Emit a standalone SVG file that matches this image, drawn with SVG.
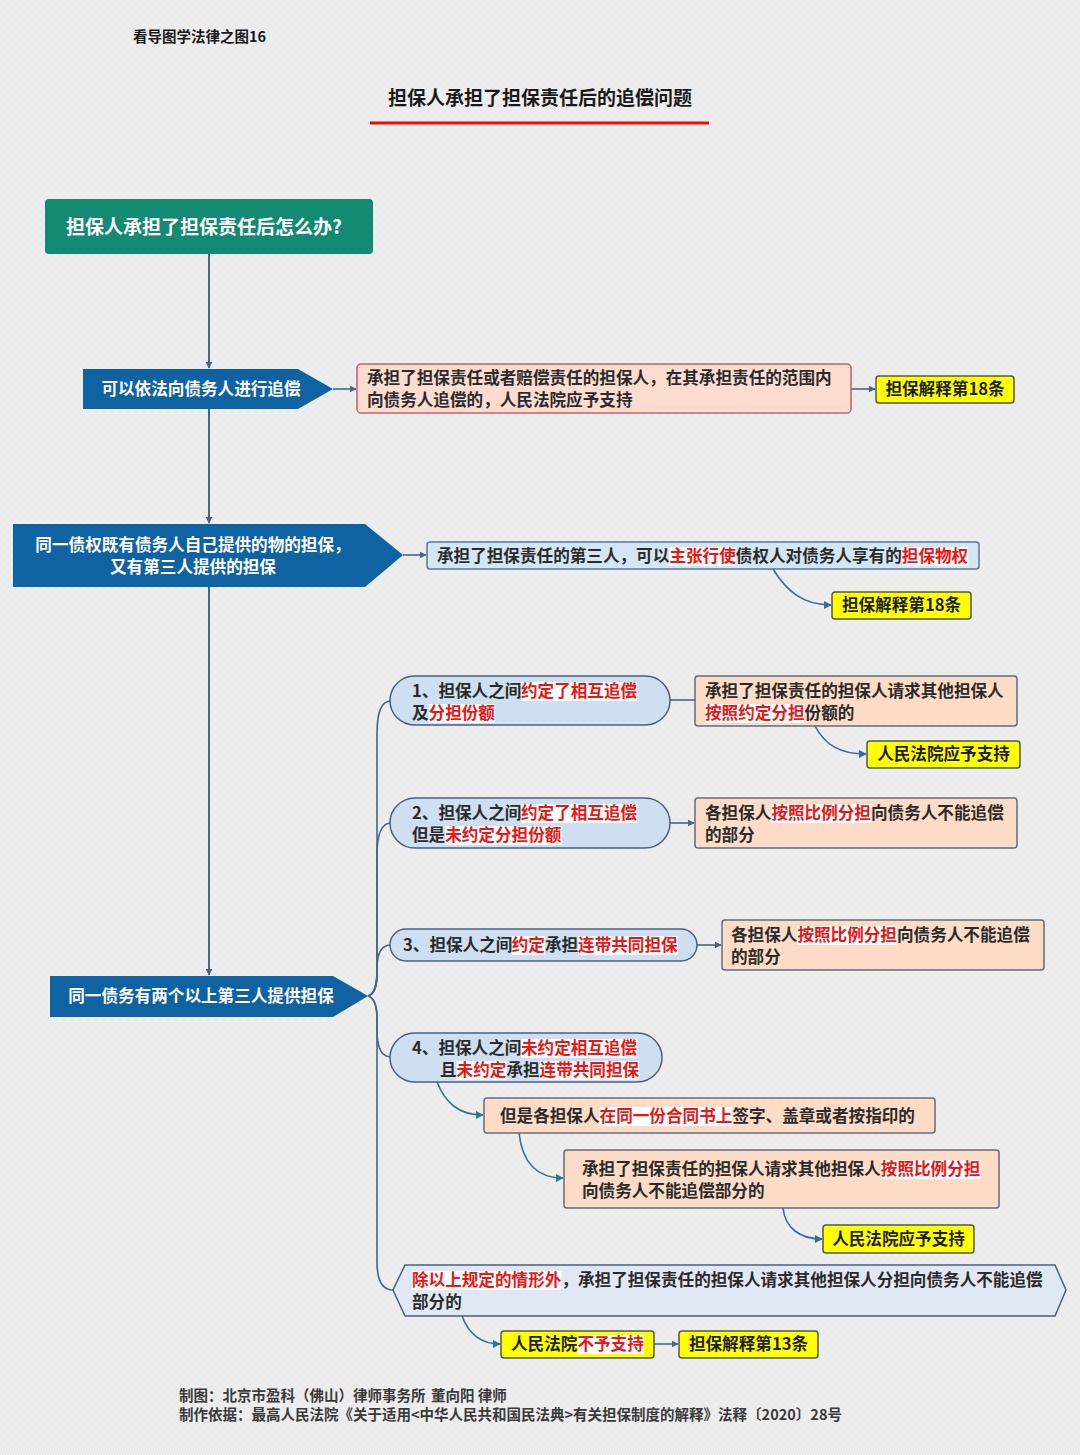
<svg xmlns="http://www.w3.org/2000/svg" width="1080" height="1455" viewBox="0 0 1080 1455">
<defs>
<pattern id="tex" width="8" height="8" patternUnits="userSpaceOnUse">
<path d="M0,8 L8,0 M0,0 L8,8" stroke="#ffffff" stroke-width="0.6" opacity="0.45"/>
</pattern>
<marker id="ab" viewBox="0 0 10 10" refX="9" refY="5" markerWidth="7" markerHeight="7" orient="auto" markerUnits="userSpaceOnUse">
<path d="M0,0 L10,5 L0,10 Z" fill="#4d6384"/>
</marker>
<marker id="at" viewBox="0 0 10 10" refX="9" refY="5" markerWidth="8" markerHeight="8" orient="auto" markerUnits="userSpaceOnUse">
<path d="M0,0 L10,5 L0,10 Z" fill="#2d7890"/>
</marker>
<marker id="ac" viewBox="0 0 10 10" refX="9" refY="5" markerWidth="8" markerHeight="8" orient="auto" markerUnits="userSpaceOnUse">
<path d="M0,0 L10,5 L0,10 Z" fill="#3a6a9a"/>
</marker>
<style>
text{font-family:"Noto Sans CJK SC","Liberation Sans",sans-serif;font-weight:700;}
.t{font-size:16.6px;fill:#2b2b2b;}
.w{font-size:16.6px;fill:#ffffff;}
.r{fill:#ee1515;}
.hl{fill:#ffffff;}
.trunk{stroke:#4d6384;stroke-width:2;fill:none;}
.br{stroke:#4d6384;stroke-width:1.6;fill:none;}
.ct{stroke:#2d7890;stroke-width:1.6;fill:none;}
.cb{stroke:#3a6a9a;stroke-width:1.6;fill:none;}
.blue{fill:#0f63a3;}
.peach{fill:#fcdcc6;stroke:#5d6e80;stroke-width:1.5;}
.pill{fill:#cddff0;stroke:#4a6080;stroke-width:1.5;}
.yel{fill:#ffff00;stroke:#4e5a50;stroke-width:1.5;}
.yt{font-size:16.6px;fill:#1e1e1e;text-anchor:middle;}
</style>
</defs>
<rect width="1080" height="1455" fill="#ebebeb"/>
<rect width="1080" height="1455" fill="url(#tex)"/>

<g id="header">
<text x="133" y="42" style="font-size:14.5px;fill:#1a1a1a;">看导图学法律之图16</text>
<text x="540" y="105" style="font-size:19px;fill:#1a1a1a;text-anchor:middle;">担保人承担了担保责任后的追偿问题</text>
<line x1="370" y1="123" x2="709" y2="123" stroke="#e01010" stroke-width="3"/>
</g>

<g id="connectors">
<line class="trunk" x1="209" y1="254" x2="209" y2="368" marker-end="url(#ab)"/>
<line class="trunk" x1="209" y1="409" x2="209" y2="523" marker-end="url(#ab)"/>
<line class="trunk" x1="209" y1="587" x2="209" y2="975" marker-end="url(#ab)"/>
<line class="br" x1="333" y1="389" x2="356" y2="389" marker-end="url(#ab)"/>
<line class="br" x1="851" y1="389" x2="875" y2="389" marker-end="url(#ab)"/>
<line class="br" x1="403" y1="555" x2="426" y2="555" marker-end="url(#ab)"/>
<path class="cb" d="M773,569 C786,590 802,605 831,605" marker-end="url(#ac)"/>
<path class="br" d="M368,996 C375,994 377,985 377,970 L377,735 C377,712 381,701 391,701"/>
<path class="br" d="M368,996 C375,994 377,985 377,970 L377,855 C377,835 381,823 391,823"/>
<path class="br" d="M368,996 C375,994 377,985 377,975 L377,968 C377,953 381,945 391,945"/>
<path class="br" d="M368,996 C375,998 377,1008 377,1018 L377,1030 C377,1047 381,1057 391,1057"/>
<path class="br" d="M368,996 C375,998 377,1008 377,1020 L377,1262 C377,1280 382,1290 393,1290"/>
<line class="br" x1="670" y1="700" x2="695" y2="700"/>
<line class="br" x1="670" y1="823" x2="694" y2="823" marker-end="url(#ab)"/>
<line class="br" x1="697" y1="945" x2="721" y2="945" marker-end="url(#ab)"/>
<path class="cb" d="M815,726 C825,745 840,754 866,754" marker-end="url(#ac)"/>
<path class="ct" d="M437,1082 C445,1102 458,1115 483,1115" marker-end="url(#at)"/>
<path class="ct" d="M519,1133 C522,1160 535,1178 563,1178" marker-end="url(#at)"/>
<path class="cb" d="M783,1208 C785,1228 800,1239 822,1239" marker-end="url(#ac)"/>
<path class="ct" d="M462,1316 C468,1332 480,1344 500,1344" marker-end="url(#at)"/>
<line class="br" x1="654" y1="1344" x2="678" y2="1344" marker-end="url(#ab)"/>
</g>

<g id="n-root">
<rect x="45" y="199" width="328" height="55" rx="4" fill="#138a72"/>
<text x="66" y="234" style="font-size:19px;fill:#ffffff;">担保人承担了担保责任后怎么办?</text>
</g>

<g id="n-recourse">
<polygon class="blue" points="83,369 298,369 333,389 298,409 83,409"/>
<text class="w" x="201" y="395" text-anchor="middle">可以依法向债务人进行追偿</text>
</g>

<g id="n-recourse-rule">
<rect x="357" y="364" width="494" height="49" rx="4" fill="#fcdcd0" stroke="#c8606a" stroke-width="1.5"/>
<text class="t" x="367" y="384">承担了担保责任或者赔偿责任的担保人，在其承担责任的范围内</text>
<text class="t" x="367" y="406">向债务人追偿的，人民法院应予支持</text>
</g>

<g id="n-art18a">
<rect class="yel" x="876" y="376" width="138" height="27" rx="3"/>
<text class="yt" x="945" y="395">担保解释第18条</text>
</g>

<g id="n-mixed">
<polygon class="blue" points="13,524 365,524 403,555 365,587 13,587"/>
<text class="w" x="193" y="551" text-anchor="middle">同一债权既有债务人自己提供的物的担保，</text>
<text class="w" x="193" y="573" text-anchor="middle">又有第三人提供的担保</text>
</g>

<g id="n-mixed-rule">
<rect x="427" y="542" width="552" height="27" rx="3" fill="#d5e6f3" stroke="#5a7896" stroke-width="1.5"/>
<rect class="hl" x="669.4" y="547" width="66.4" height="19"/>
<rect class="hl" x="901.8" y="547" width="66.4" height="19"/>
<text class="t" y="562"><tspan x="437">承担了担保责任的第三人，可以</tspan><tspan x="669.4" class="r">主张行使</tspan><tspan x="735.8">债权人对债务人享有的</tspan><tspan x="901.8" class="r">担保物权</tspan></text>
</g>

<g id="n-art18b">
<rect class="yel" x="832" y="592" width="139" height="27" rx="3"/>
<text class="yt" x="901.5" y="611">担保解释第18条</text>
</g>

<g id="n-multi">
<polygon class="blue" points="50,976 333,976 368,996 333,1017 50,1017"/>
<text class="w" x="201" y="1002" text-anchor="middle">同一债务有两个以上第三人提供担保</text>
</g>

<g id="n-opt1">
<rect class="pill" x="390" y="676" width="280" height="49" rx="24.5"/>
<rect class="hl" x="521" y="682" width="116.2" height="19"/>
<rect class="hl" x="428.6" y="704" width="66.4" height="19"/>
<text class="t" y="697"><tspan x="412">1、担保人之间</tspan><tspan x="521" class="r">约定了相互追偿</tspan></text>
<text class="t" y="719"><tspan x="412">及</tspan><tspan x="428.6" class="r">分担份额</tspan></text>
</g>

<g id="n-opt1-rule">
<rect class="peach" x="695" y="676" width="322" height="50" rx="3"/>
<rect class="hl" x="705" y="704" width="99.6" height="19"/>
<text class="t" x="705" y="697">承担了担保责任的担保人请求其他担保人</text>
<text class="t" y="719"><tspan x="705" class="r">按照约定分担</tspan><tspan x="804.6">份额的</tspan></text>
</g>

<g id="n-opt1-court">
<rect class="yel" x="867" y="741" width="153" height="27" rx="3"/>
<text class="yt" x="943.5" y="760">人民法院应予支持</text>
</g>

<g id="n-opt2">
<rect class="pill" x="390" y="798" width="280" height="50" rx="25"/>
<rect class="hl" x="521" y="804" width="116.2" height="19"/>
<rect class="hl" x="445.2" y="826" width="116.2" height="19"/>
<text class="t" y="819"><tspan x="412">2、担保人之间</tspan><tspan x="521" class="r">约定了相互追偿</tspan></text>
<text class="t" y="841"><tspan x="412">但是</tspan><tspan x="445.2" class="r">未约定分担份额</tspan></text>
</g>

<g id="n-opt2-rule">
<rect class="peach" x="695" y="798" width="322" height="50" rx="3"/>
<rect class="hl" x="771.4" y="804" width="99.6" height="19"/>
<text class="t" y="819"><tspan x="705">各担保人</tspan><tspan x="771.4" class="r">按照比例分担</tspan><tspan x="871">向债务人不能追偿</tspan></text>
<text class="t" x="705" y="841">的部分</text>
</g>

<g id="n-opt3">
<rect class="pill" x="390" y="929" width="307" height="32" rx="16"/>
<rect class="hl" x="511.7" y="936" width="33.2" height="19"/>
<rect class="hl" x="578.1" y="936" width="99.6" height="19"/>
<text class="t" y="951"><tspan x="403">3、担保人之间</tspan><tspan x="511.7" class="r">约定</tspan><tspan x="544.9">承担</tspan><tspan x="578.1" class="r">连带共同担保</tspan></text>
</g>

<g id="n-opt3-rule">
<rect class="peach" x="722" y="920" width="322" height="50" rx="3"/>
<rect class="hl" x="797.4" y="926" width="99.6" height="19"/>
<text class="t" y="941"><tspan x="731">各担保人</tspan><tspan x="797.4" class="r">按照比例分担</tspan><tspan x="897">向债务人不能追偿</tspan></text>
<text class="t" x="731" y="963">的部分</text>
</g>

<g id="n-opt4">
<rect class="pill" x="390" y="1033" width="272" height="49" rx="24.5"/>
<rect class="hl" x="521" y="1039" width="116.2" height="19"/>
<rect class="hl" x="456.6" y="1061" width="49.8" height="19"/>
<rect class="hl" x="539.6" y="1061" width="99.6" height="19"/>
<text class="t" y="1054"><tspan x="412">4、担保人之间</tspan><tspan x="521" class="r">未约定相互追偿</tspan></text>
<text class="t" y="1076"><tspan x="440">且</tspan><tspan x="456.6" class="r">未约定</tspan><tspan x="506.4">承担</tspan><tspan x="539.6" class="r">连带共同担保</tspan></text>
</g>

<g id="n-opt4-same">
<rect class="peach" x="484" y="1098" width="451" height="35" rx="3"/>
<rect class="hl" x="599.6" y="1107" width="132.8" height="19"/>
<text class="t" y="1122"><tspan x="500">但是各担保人</tspan><tspan x="599.6" class="r">在同一份合同书上</tspan><tspan x="732.4">签字、盖章或者按指印的</tspan></text>
</g>

<g id="n-opt4-rule">
<rect class="peach" x="564" y="1150" width="435" height="58" rx="3"/>
<rect class="hl" x="880.8" y="1160" width="99.6" height="19"/>
<text class="t" y="1175"><tspan x="582">承担了担保责任的担保人请求其他担保人</tspan><tspan x="880.8" class="r">按照比例分担</tspan></text>
<text class="t" x="582" y="1197">向债务人不能追偿部分的</text>
</g>

<g id="n-opt4-court">
<rect class="yel" x="823" y="1225" width="151" height="28" rx="3"/>
<text class="yt" x="898.5" y="1245">人民法院应予支持</text>
</g>

<g id="n-opt5">
<polygon points="405,1265 1055,1265 1066,1290 1055,1316 405,1316 393,1290" fill="#dfe8f3" stroke="#4a6080" stroke-width="1.5"/>
<rect class="hl" x="412" y="1271" width="149.4" height="19"/>
<text class="t" y="1286"><tspan x="412" class="r">除以上规定的情形外</tspan><tspan x="561.4">，承担了担保责任的担保人请求其他担保人分担向债务人不能追偿</tspan></text>
<text class="t" x="412" y="1308">部分的</text>
</g>

<g id="n-opt5-court">
<rect class="yel" x="501" y="1331" width="153" height="27" rx="3"/>
<rect class="hl" x="577.4" y="1335" width="66.4" height="19"/>
<text class="t" y="1350"><tspan x="511" style="fill:#1e1e1e">人民法院</tspan><tspan x="577.4" class="r">不予支持</tspan></text>
</g>

<g id="n-art13">
<rect class="yel" x="679" y="1331" width="139" height="27" rx="3"/>
<text class="yt" x="748.5" y="1350">担保解释第13条</text>
</g>

<g id="footer">
<text y="1401" style="font-size:14.5px;fill:#3a3a3a;"><tspan x="179">制图：北京市盈科（佛山）律师事务所</tspan><tspan x="431">董向阳 律师</tspan></text>
<text x="179" y="1420" style="font-size:14.5px;fill:#3a3a3a;">制作依据：最高人民法院《关于适用&lt;中华人民共和国民法典&gt;有关担保制度的解释》法释〔2020〕28号</text>
</g>
</svg>
